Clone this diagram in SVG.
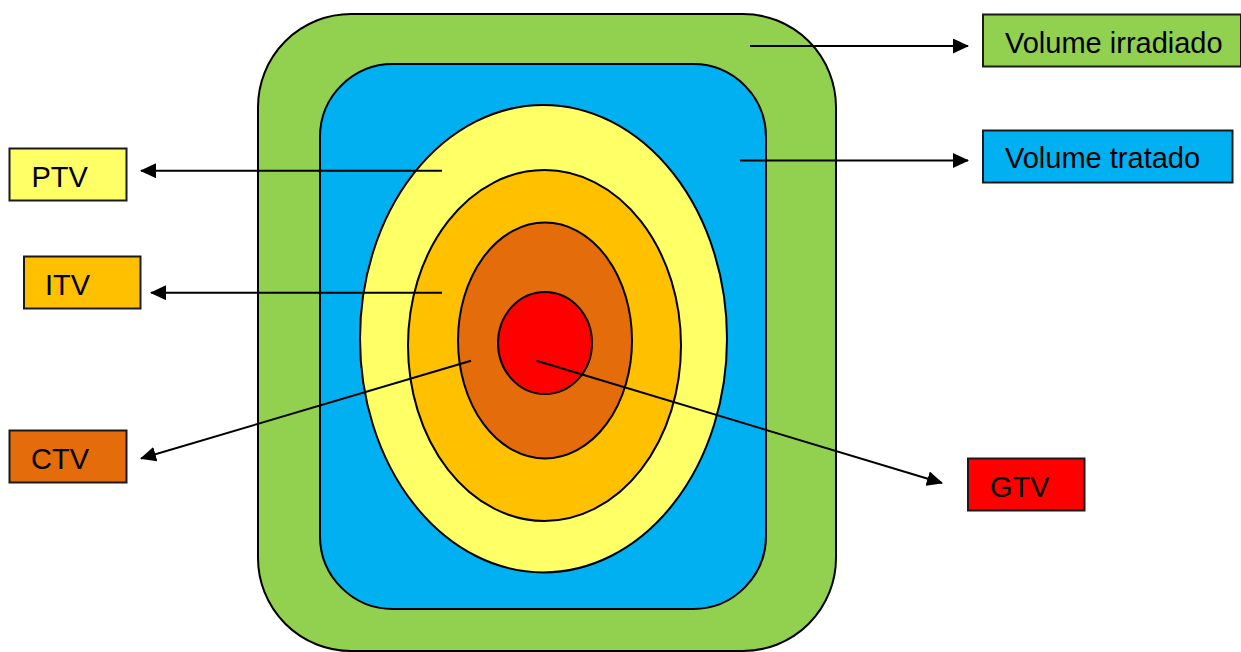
<svg xmlns="http://www.w3.org/2000/svg" width="1241" height="652" viewBox="0 0 1241 652">
  <style>
    .shape { stroke: #000; stroke-width: 2; }
    .box { stroke: #1a1a1a; stroke-width: 2; }
    .lbl { font-family: "Liberation Sans", Arial, sans-serif; font-size: 29px; fill: #000; }
    .conn { stroke: #000; stroke-width: 2; fill: none; marker-end: url(#arrow); }
  </style>
  <defs>
    <marker id="arrow" viewBox="0 0 16 15" refX="15" refY="7.5" markerWidth="16" markerHeight="15" markerUnits="userSpaceOnUse" orient="auto">
      <path d="M0,0 L16,7.5 L0,15 Z" fill="#000"/>
    </marker>
  </defs>
  <rect width="1241" height="652" fill="#fff"/>

  <g id="volume-irradiado-region">
    <rect class="shape" x="258" y="14" width="578" height="637" rx="93" ry="93" fill="#92D050"/>
  </g>
  <g id="volume-tratado-region">
    <rect class="shape" x="320" y="64" width="446" height="545" rx="73" ry="73" fill="#00B0F0"/>
  </g>
  <g id="ptv-region">
    <ellipse class="shape" cx="543.5" cy="338.7" rx="183.5" ry="233.7" fill="#FFFF66"/>
  </g>
  <g id="itv-region">
    <ellipse class="shape" cx="544.5" cy="345.5" rx="136.5" ry="175.5" fill="#FFC000"/>
  </g>
  <g id="ctv-region">
    <ellipse class="shape" cx="545" cy="340.5" rx="87" ry="118" fill="#E46C0A"/>
  </g>
  <g id="gtv-region">
    <ellipse class="shape" cx="545" cy="343" rx="47" ry="51" fill="#FF0000"/>
  </g>

  <g id="connectors">
    <line class="conn" x1="750" y1="46" x2="968" y2="46"/>
    <line class="conn" x1="740" y1="160.5" x2="968" y2="160.5"/>
    <line class="conn" x1="442" y1="170.7" x2="141" y2="170.7"/>
    <line class="conn" x1="442" y1="292.7" x2="151" y2="292.7"/>
    <line class="conn" x1="471" y1="360.7" x2="141" y2="458.5"/>
    <line class="conn" x1="536.5" y1="360.7" x2="942" y2="483"/>
  </g>

  <g id="label-volume-irradiado">
    <rect class="box" x="983" y="14.5" width="258" height="52" fill="#92D050"/>
    <text class="lbl" x="1005" y="53">Volume irradiado</text>
  </g>
  <g id="label-volume-tratado">
    <rect class="box" x="983" y="130.5" width="249.5" height="52" fill="#00B0F0"/>
    <text class="lbl" x="1005" y="168">Volume tratado</text>
  </g>
  <g id="label-ptv">
    <rect class="box" x="9.5" y="148.5" width="117" height="52" fill="#FFFF66"/>
    <text class="lbl" x="31.5" y="187">PTV</text>
  </g>
  <g id="label-itv">
    <rect class="box" x="24" y="256.5" width="116.5" height="52" fill="#FFC000"/>
    <text class="lbl" x="45" y="294.5">ITV</text>
  </g>
  <g id="label-ctv">
    <rect class="box" x="9.5" y="430.5" width="117" height="52" fill="#E46C0A"/>
    <text class="lbl" x="31" y="468.5">CTV</text>
  </g>
  <g id="label-gtv">
    <rect class="box" x="968" y="458.5" width="116.5" height="52" fill="#FF0000"/>
    <text class="lbl" x="990" y="497">GTV</text>
  </g>
</svg>
